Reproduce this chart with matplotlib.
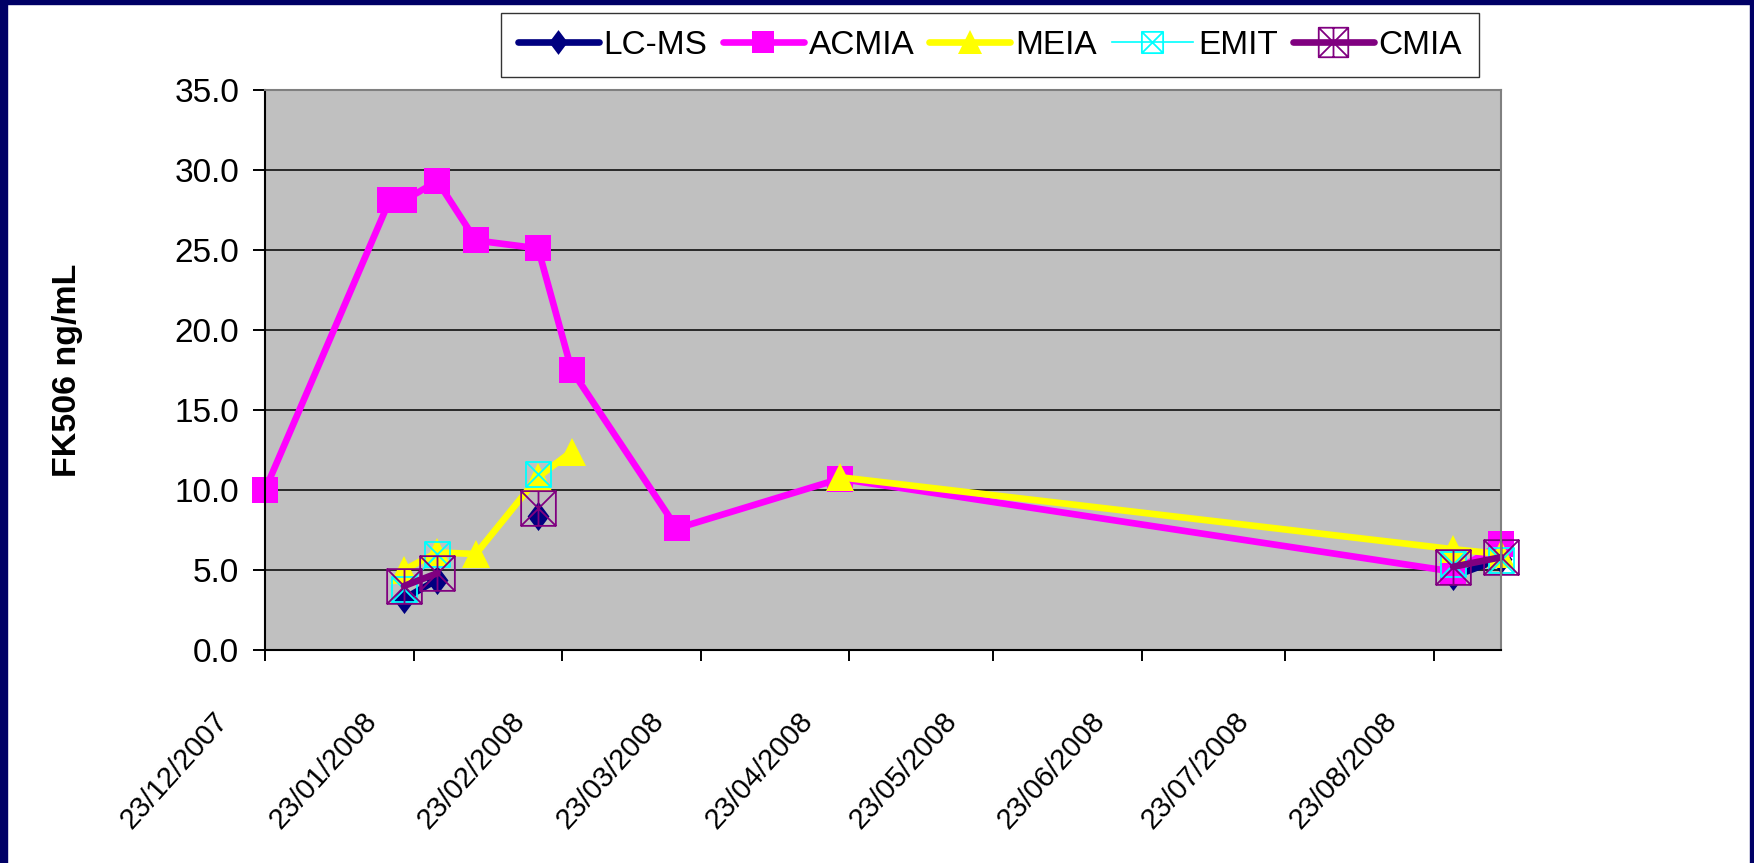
import matplotlib
matplotlib.use('Agg')
import matplotlib.pyplot as plt
import matplotlib.dates as mdates
import matplotlib.transforms as mtransforms
from matplotlib.path import Path
from matplotlib.patches import Rectangle
from matplotlib.ticker import MultipleLocator, FormatStrFormatter
import numpy as np
import pandas as pd

plt.rcParams['font.family'] = ['Liberation Sans', 'DejaVu Sans']

# sampling dates and FK506 levels per assay (ng/mL), nan = not measured
dates = pd.to_datetime(['2007-12-23', '2008-01-18', '2008-01-21', '2008-01-28',
                        '2008-02-05', '2008-02-18', '2008-02-25', '2008-03-18',
                        '2008-04-21', '2008-08-27', '2008-09-06'])
nan = np.nan
lcms = [nan, nan, 3.2, 4.4, nan, 8.4, nan, nan, nan, 4.6, 5.7]
acmia = [10.0, 28.1, 28.1, 29.3, 25.6, 25.1, 17.5, 7.6, 10.7, 4.9, 6.6]
meia = [nan, nan, 5.0, 6.1, 6.0, 10.8, 12.4, nan, 10.8, 6.3, 6.0]
emit = [nan, nan, 3.8, 6.0, nan, 11.0, nan, nan, nan, 5.4, 5.6]
cmia = [nan, nan, 4.0, 4.8, nan, 8.9, nan, nan, nan, 5.2, 5.8]

M, L, C = Path.MOVETO, Path.LINETO, Path.CLOSEPOLY
# tall diamond, box with a cross, box with an asterisk
diamond = Path([(0, 1), (0.75, 0), (0, -1), (-0.75, 0), (0, 1)], [M, L, L, L, C])
box_x = Path([(-1, -1), (1, -1), (1, 1), (-1, 1), (-1, -1),
              (-1, -1), (1, 1), (-1, 1), (1, -1)],
             [M, L, L, L, C, M, L, M, L])
box_star = Path([(-1, -1), (1, -1), (1, 1), (-1, 1), (-1, -1),
                 (-1, -1), (1, 1), (-1, 1), (1, -1), (0, -1), (0, 1)],
                [M, L, L, L, C, M, L, M, L, M, L])

fig = plt.figure(figsize=(17.54, 8.63), dpi=100)
ax = fig.add_axes([265/1754, 213/863, 1236/1754, 560/863])
ax.set_facecolor('#C0C0C0')

lw = 4.8
ax.plot(dates, lcms, color='#000080', lw=lw, marker=diamond, ms=21, mew=0,
        label='LC-MS', clip_on=False, solid_capstyle='round')
ax.plot(dates, acmia, color='#FF00FF', lw=lw, marker='s', ms=18.5, mew=0,
        label='ACMIA', clip_on=False, solid_capstyle='round')
ax.plot(dates, meia, color='#FFFF00', lw=lw, marker='^', ms=20, mew=0,
        label='MEIA', clip_on=False, solid_capstyle='round')
ax.plot(dates, emit, color='#00FFFF', lw=1.2, marker=box_x, ms=18, mfc='none',
        mec='#00FFFF', mew=1.3, label='EMIT', clip_on=False)
ax.plot(dates, cmia, color='#800080', lw=lw, marker=box_star, ms=25, mfc='none',
        mec='#800080', mew=1.3, label='CMIA', clip_on=False, solid_capstyle='round')

ax.set_ylim(0, 35)
ax.yaxis.set_major_locator(MultipleLocator(5))
ax.yaxis.set_major_formatter(FormatStrFormatter('%.1f'))
ax.yaxis.grid(True, color='black', lw=1.1)

ax.set_xlim(pd.Timestamp('2007-12-23'), pd.Timestamp('2008-09-06'))
ax.xaxis.set_major_locator(mdates.MonthLocator(bymonthday=23))
ax.xaxis.set_major_formatter(mdates.DateFormatter('%d/%m/%Y'))

for side in ['left', 'bottom']:
    ax.spines[side].set_color('black')
    ax.spines[side].set_linewidth(1.5)
for side in ['top', 'right']:
    ax.spines[side].set_color('#808080')
    ax.spines[side].set_linewidth(1.5)

ax.tick_params(axis='y', direction='out', length=9, width=1.4, pad=9.5, labelsize=24)
ax.tick_params(axis='x', direction='out', length=7.7, width=1.4, pad=33, labelsize=21)
for lbl in ax.get_xticklabels():
    lbl.set_rotation(48)
    lbl.set_ha('right')
    lbl.set_va('top')

ax.set_ylabel('FK506 ng/mL', fontsize=24.5, fontweight='bold')
ax.yaxis.set_label_coords(-0.147, 0.5)

leg = fig.legend(loc='upper left', bbox_to_anchor=(501/1754, 1 - 13/863), ncol=5,
                 fontsize=24, frameon=True, fancybox=False, shadow=False,
                 handlelength=2.43, handletextpad=0.15, columnspacing=0.45,
                 borderpad=0.5, markerscale=0.85, borderaxespad=0)
leg.get_frame().set_edgecolor('black')
leg.get_frame().set_linewidth(1.0)

# dark frame round the slide
navy = '#000066'
fig.add_artist(Rectangle((0, 0), 7/1754, 1, transform=fig.transFigure, color=navy, zorder=10))
fig.add_artist(Rectangle((0, 1 - 4/863), 1, 4/863, transform=fig.transFigure, color=navy, zorder=10))
fig.add_artist(Rectangle((1 - 4/1754, 0), 4/1754, 1, transform=fig.transFigure, color=navy, zorder=10))

fig.canvas.draw()
shift = mtransforms.ScaledTranslation(-0.31, 0, fig.dpi_scale_trans)
for lbl in ax.get_xticklabels():
    lbl.set_transform(lbl.get_transform() + shift)

fig.savefig('out.png', dpi=100)
